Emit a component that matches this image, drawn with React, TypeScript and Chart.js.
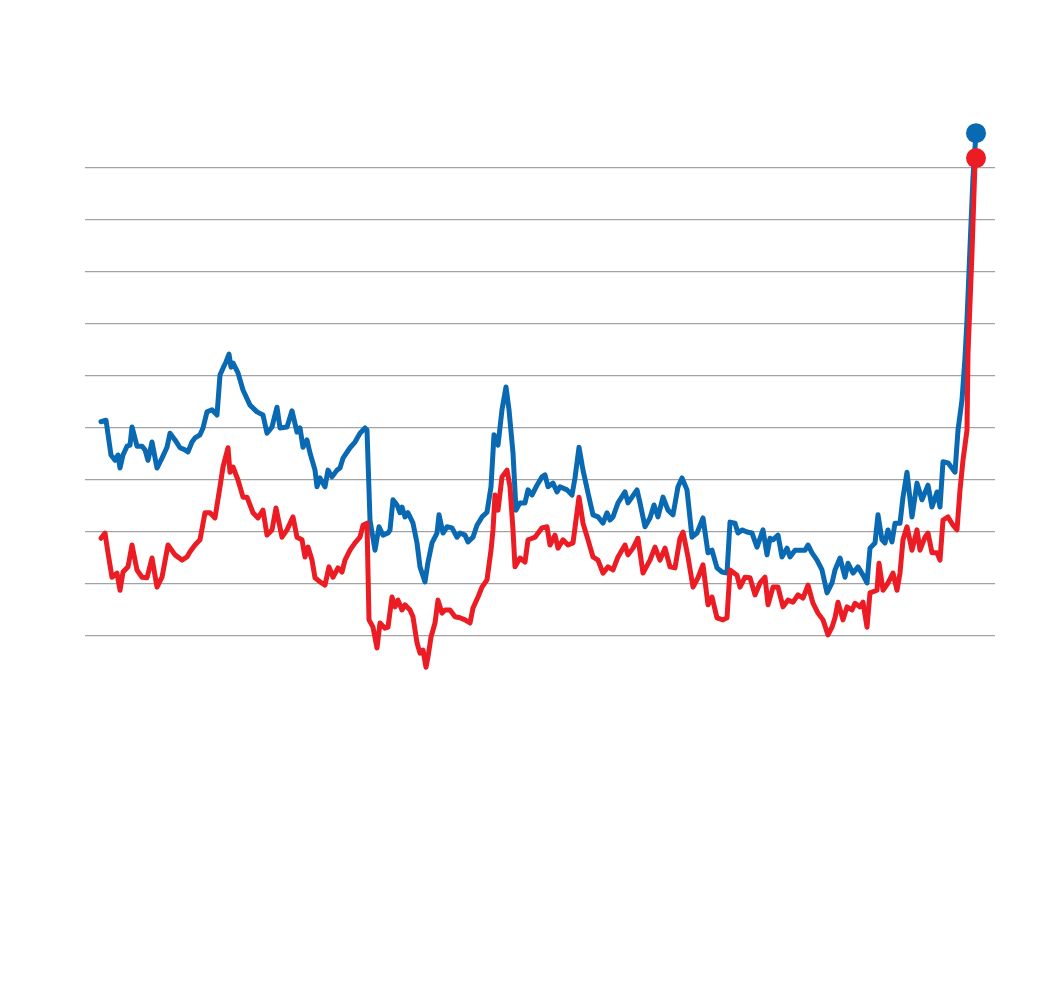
import { useEffect, useRef } from "react";
import { Chart, registerables } from "chart.js";

Chart.register(...registerables);

const BLUE = "#0a69b3";
const RED = "#ec1c24";
const GRID = "#a3a3a3";

// Day index (x) and value (y) for the blue series
const blueDays = [
  0, 5, 10, 14, 17, 19, 22, 26, 29, 31, 36, 41, 44, 47, 51, 56, 61, 66, 69, 74,
  79, 84, 87, 91, 94, 99, 102, 106, 111, 116, 119, 122, 125, 128, 130, 132, 137, 142, 149, 156,
  162, 166, 171, 176, 179, 186, 191, 196, 199, 202, 206, 209, 214, 216, 219, 224, 227, 231, 236, 239,
  242, 249, 254, 259, 264, 266, 269, 274, 278, 282, 287, 289, 292, 296, 299, 301, 304, 307, 312, 316,
  319, 324, 327, 331, 336, 338, 342, 346, 351, 356, 359, 364, 367, 372, 376, 381, 386, 390, 393, 397,
  401, 405, 408, 412, 415, 419, 424, 427, 431, 436, 441, 444, 447, 452, 456, 459, 466, 471, 474, 478,
  482, 487, 492, 497, 502, 506, 509, 512, 517, 524, 527, 531, 536, 539, 544, 549, 553, 557, 562, 567,
  572, 577, 581, 586, 591, 596, 602, 607, 611, 616, 621, 626, 629, 634, 637, 641, 646, 651, 656, 662,
  666, 669, 672, 677, 681, 686, 689, 694, 699, 704, 707, 711, 716, 721, 726, 731, 734, 739, 744, 747,
  752, 757, 762, 766, 769, 774, 777, 781, 784, 787, 791, 794, 799, 802, 806, 811, 816, 821, 827, 831,
  836, 839, 842, 847, 854, 857, 861, 864, 866, 869, 872, 875,
];
const blueValues = [
  41.2, 41.5, 34.8, 33.8, 34.8, 32.3, 34.8, 36.5, 36.7, 40.2, 36.5, 36.5, 35.8, 33.8, 37.3, 32.3, 34.2, 36.3, 39.0, 37.7,
  36.2, 35.8, 35.4, 37.3, 38.1, 38.7, 40.0, 43.1, 43.5, 42.5, 50.2, 51.5, 52.7, 54.2, 51.7, 52.5, 50.6, 47.3, 44.4, 43.1,
  42.5, 39.0, 40.2, 44.0, 40.0, 40.2, 43.3, 39.2, 40.0, 36.3, 37.7, 35.2, 31.9, 28.7, 30.4, 28.7, 31.9, 30.6, 31.9, 32.3,
  34.2, 36.2, 37.3, 39.0, 40.0, 39.6, 22.3, 16.5, 21.0, 19.4, 19.8, 20.4, 26.2, 25.2, 23.7, 24.8, 22.9, 23.7, 21.7, 17.9,
  13.3, 10.4, 14.2, 17.9, 19.8, 23.3, 19.8, 21.0, 20.8, 19.0, 19.8, 19.4, 18.1, 19.0, 21.3, 22.9, 23.8, 28.7, 38.7, 36.7,
  43.5, 47.9, 43.5, 35.2, 24.2, 25.6, 25.6, 28.1, 27.1, 29.0, 30.6, 31.0, 28.7, 29.4, 27.7, 28.7, 28.1, 27.1, 30.4, 36.3,
  31.9, 27.5, 23.3, 22.9, 21.7, 23.7, 22.3, 22.9, 25.6, 27.7, 25.6, 26.7, 28.1, 25.6, 21.0, 22.7, 25.2, 22.9, 26.7, 24.2,
  23.3, 28.7, 30.4, 28.1, 19.0, 19.8, 22.7, 16.0, 16.5, 13.1, 12.3, 12.1, 21.9, 21.7, 19.8, 20.4, 20.0, 19.8, 17.1, 20.4,
  15.6, 18.8, 18.5, 19.4, 15.2, 16.9, 15.2, 16.5, 16.5, 16.5, 17.5, 16.0, 14.6, 12.7, 8.3, 10.2, 12.7, 15.0, 11.3, 14.0,
  12.1, 13.3, 11.7, 10.2, 16.9, 17.9, 23.3, 18.5, 17.9, 20.4, 18.1, 21.7, 21.7, 26.7, 31.5, 22.9, 29.4, 26.2, 29.0, 24.8,
  27.7, 24.8, 33.5, 33.3, 31.5, 39.6, 45.4, 53.5, 60.8, 74.8, 88.3, 96.7,
];

// Day index (x) and value (y) for the red series
const redDays = [
  0, 4, 7, 11, 16, 19, 22, 27, 31, 36, 41, 46, 51, 56, 61, 67, 74, 81, 86, 89,
  94, 99, 104, 109, 114, 119, 122, 127, 129, 132, 137, 142, 146, 152, 157, 162, 166, 171, 175, 181,
  186, 192, 196, 201, 204, 207, 211, 214, 219, 224, 228, 232, 237, 241, 244, 249, 254, 259, 262, 266,
  268, 272, 276, 279, 284, 287, 291, 294, 297, 301, 304, 309, 312, 316, 319, 322, 325, 327, 330, 334,
  337, 341, 344, 349, 354, 359, 364, 369, 372, 377, 381, 386, 390, 392, 394, 397, 401, 406, 409, 412,
  414, 419, 424, 427, 430, 434, 441, 446, 449, 454, 457, 462, 467, 472, 478, 482, 487, 492, 497, 502,
  507, 512, 517, 524, 527, 532, 537, 542, 549, 554, 559, 564, 569, 574, 579, 582, 587, 592, 597, 602,
  607, 611, 616, 622, 626, 629, 636, 639, 644, 649, 654, 659, 664, 667, 672, 677, 682, 687, 692, 697,
  702, 707, 712, 717, 722, 727, 731, 734, 737, 742, 746, 751, 754, 759, 762, 766, 769, 776, 778, 782,
  787, 792, 796, 799, 802, 806, 811, 816, 819, 824, 827, 831, 836, 839, 842, 847, 852, 856, 859, 862,
  866, 867, 871, 874, 875,
];
const redValues = [
  18.8, 19.8, 16.0, 11.3, 12.1, 8.8, 12.3, 13.3, 17.5, 12.7, 11.3, 11.2, 15.0, 9.4, 11.3, 17.5, 15.6, 14.6, 15.2, 16.2,
  17.5, 18.5, 23.7, 23.7, 22.7, 28.7, 32.5, 36.2, 31.5, 32.5, 30.0, 26.7, 26.7, 23.7, 22.7, 24.2, 19.4, 20.4, 24.6, 19.0,
  20.4, 22.9, 19.0, 18.5, 15.2, 17.1, 14.6, 11.2, 10.4, 9.8, 13.3, 11.3, 13.1, 12.3, 14.6, 16.5, 17.9, 19.0, 21.3, 21.7,
  3.1, 1.7, -2.3, 2.5, 1.5, 1.7, 7.5, 5.6, 6.9, 5.0, 6.0, 5.0, 3.7, -1.3, -3.3, -2.7, -6.0, -4.0, -0.2, 2.5,
  6.9, 4.4, 5.0, 5.0, 3.7, 3.5, 3.1, 2.5, 5.4, 7.5, 9.4, 10.8, 16.5, 20.4, 27.1, 24.2, 30.6, 31.9, 28.7, 20.4,
  13.3, 15.0, 14.2, 18.5, 18.7, 19.0, 20.8, 21.0, 17.5, 19.4, 16.9, 18.5, 17.5, 17.9, 26.7, 21.7, 18.5, 15.2, 14.6, 12.1,
  13.3, 12.7, 15.2, 17.5, 15.6, 16.9, 18.8, 12.1, 14.6, 17.1, 14.6, 16.9, 13.3, 13.1, 18.8, 20.0, 15.2, 9.4, 11.2, 13.7,
  6.0, 7.5, 3.5, 3.1, 3.5, 12.7, 11.7, 9.4, 11.3, 11.2, 7.9, 10.2, 11.3, 6.0, 9.4, 9.4, 5.6, 6.9, 6.5, 7.9,
  7.3, 9.8, 6.3, 4.4, 3.1, 0.2, 1.7, 3.5, 6.5, 3.1, 5.6, 5.0, 6.3, 5.6, 6.5, 1.7, 8.3, 8.8, 14.0, 8.8,
  10.2, 12.1, 8.8, 12.1, 18.5, 21.0, 16.5, 20.4, 16.5, 19.0, 19.8, 16.0, 16.0, 14.6, 22.3, 22.9, 21.3, 20.4, 28.1, 33.8,
  39.6, 54.4, 73.7, 91.0, 91.9,
];

const GRID_MIN = 0;
const GRID_MAX = 90;

export default function App() {
  const ref = useRef<HTMLCanvasElement>(null);

  useEffect(() => {
    if (!ref.current) return;
    const redLast = redDays.length - 1;
    const blueLast = blueDays.length - 1;
    const chart = new Chart(ref.current, {
      type: "line",
      data: {
        datasets: [
          {
            label: "Red",
            data: redDays.map((x, i) => ({ x, y: redValues[i] })),
            borderColor: RED,
            backgroundColor: RED,
            borderWidth: 5,
            borderJoinStyle: "round",
            borderCapStyle: "round",
            tension: 0,
            pointRadius: (ctx: any) => (ctx.dataIndex === redLast ? 10 : 0),
            pointBackgroundColor: RED,
            pointBorderWidth: 0,
            pointHoverRadius: 0,
            order: 0,
            clip: false,
          },
          {
            label: "Blue",
            data: blueDays.map((x, i) => ({ x, y: blueValues[i] })),
            borderColor: BLUE,
            backgroundColor: BLUE,
            borderWidth: 5,
            borderJoinStyle: "round",
            borderCapStyle: "round",
            tension: 0,
            pointRadius: (ctx: any) => (ctx.dataIndex === blueLast ? 10 : 0),
            pointBackgroundColor: BLUE,
            pointBorderWidth: 0,
            pointHoverRadius: 0,
            order: 1,
            clip: false,
          },
        ],
      },
      options: {
        responsive: false,
        animation: false,
        events: [],
        layout: { padding: { left: 85, right: 54, top: 116, bottom: 307 } },
        plugins: {
          legend: { display: false },
          tooltip: { enabled: false },
        },
        scales: {
          x: {
            type: "linear",
            min: -16,
            max: 894,
            display: false,
          },
          y: {
            type: "linear",
            min: -10,
            max: 100,
            ticks: { display: false, stepSize: 10 },
            grid: {
              drawTicks: false,
              lineWidth: 1.2,
              color: (ctx: any) => {
                const v = ctx.tick ? ctx.tick.value : NaN;
                return v >= GRID_MIN && v <= GRID_MAX ? GRID : "rgba(0,0,0,0)";
              },
            },
            border: { display: false },
          },
        },
      },
    });
    return () => chart.destroy();
  }, []);

  return (
    <div style={{ position: "fixed", left: 0, top: 0, width: 1049, height: 995, background: "#fff" }}>
      <canvas ref={ref} width={1049} height={995} style={{ display: "block" }} />
    </div>
  );
}
